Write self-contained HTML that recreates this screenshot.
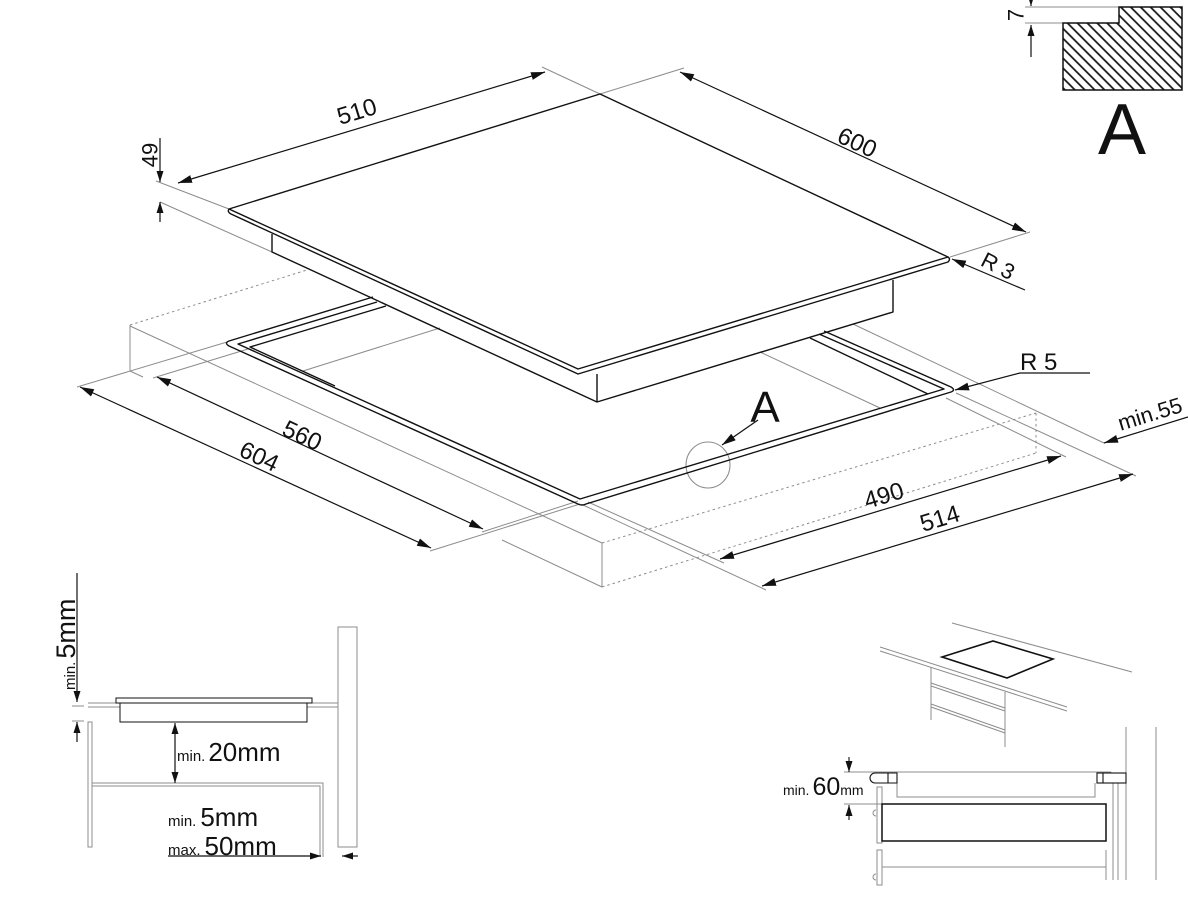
<!DOCTYPE html>
<html>
<head>
<meta charset="utf-8">
<style>
  html,body{margin:0;padding:0;background:#fff;}
  svg{display:block;}
  text{font-family:"Liberation Sans", Arial, sans-serif;fill:#111;}
</style>
</head>
<body>
<svg width="1188" height="899" viewBox="0 0 1188 899" xmlns="http://www.w3.org/2000/svg">
  <defs>
    <marker id="ar" viewBox="0 0 14 8" refX="14" refY="4" markerWidth="14" markerHeight="8" orient="auto-start-reverse" markerUnits="userSpaceOnUse">
      <path d="M0,0 L14,4 L0,8 z" fill="#111"/>
    </marker>
    <marker id="as" viewBox="0 0 11 7" refX="11" refY="3.5" markerWidth="11" markerHeight="7" orient="auto-start-reverse" markerUnits="userSpaceOnUse">
      <path d="M0,0 L11,3.5 L0,7 z" fill="#111"/>
    </marker>
    <pattern id="hatch" patternUnits="userSpaceOnUse" width="7" height="7" patternTransform="rotate(-45)">
      <line x1="3.5" y1="-2" x2="3.5" y2="9" stroke="#111" stroke-width="1.7"/>
    </pattern>
  </defs>

  <!-- ================= GRAY THIN LINES (main view) ================= -->
  <g stroke="#8c8c8c" stroke-width="1" fill="none">
    <line x1="156" y1="181" x2="229" y2="209"/>
    <line x1="160" y1="202" x2="272" y2="252"/>
    <line x1="542" y1="67" x2="600" y2="94"/>
    <line x1="600" y1="94" x2="684" y2="68"/>
    <line x1="950" y1="257" x2="1030" y2="232"/>
    <line x1="130" y1="325" x2="130" y2="371"/>
    <line x1="130" y1="371" x2="143" y2="377"/>
    <line x1="130" y1="326" x2="602" y2="543"/>
    <line x1="502" y1="540" x2="602" y2="587"/>
    <line x1="602" y1="543" x2="602" y2="587"/>
    <line x1="303" y1="371" x2="440" y2="328"/>
    <line x1="760" y1="352" x2="880" y2="408"/>
    <line x1="853" y1="324" x2="1104" y2="443"/>
    <line x1="77" y1="387" x2="227" y2="342"/>
    <line x1="153" y1="378" x2="248" y2="349"/>
    <line x1="430" y1="551" x2="580" y2="504"/>
    <line x1="482" y1="532" x2="578" y2="501"/>
    <line x1="583" y1="505" x2="766" y2="590"/>
    <line x1="588" y1="502" x2="724" y2="563"/>
    <line x1="956" y1="393" x2="1136" y2="476"/>
    <line x1="946" y1="398" x2="1066" y2="457"/>
    <ellipse cx="708" cy="465" rx="22" ry="23"/>
  </g>
  <g stroke="#8c8c8c" stroke-width="1" fill="none" stroke-dasharray="2.5 3">
    <line x1="130" y1="325" x2="307" y2="270"/>
    <line x1="602" y1="543" x2="1036" y2="413"/>
    <line x1="602" y1="587" x2="1036" y2="453"/>
    <line x1="1036" y1="413" x2="1036" y2="453"/>
  </g>

  <!-- ================= HOB (main view) ================= -->
  <g stroke="#111" stroke-width="1.4" fill="none" stroke-linejoin="round">
    <path d="M229,209 L600,94 L948,257 L578,369 Z"/>
    <path d="M229,209 Q227,212 231,214 L578,374 L948,262 Q951,259 948,257"/>
    <path d="M272,234 L272,252 L597,402 L893,312 L893,280"/>
    <line x1="597" y1="374" x2="597" y2="402"/>
    <path d="M373,297 L229,341 Q224,343 229,346 L578,504 Q582,506 586,504 L951,392 Q956,390 951,387 L824,331"/>
    <path d="M377,302 L238,344 L580,499 L944,389 L819,334"/>
    <path d="M386,306 L250,347 L335,386"/>
    <path d="M810,338 L928,394"/>
  </g>

  <!-- ================= DIMENSIONS (main view) ================= -->
  <g stroke="#111" stroke-width="1.2" fill="none">
    <line x1="178" y1="183" x2="545" y2="72" marker-start="url(#ar)" marker-end="url(#ar)"/>
    <line x1="680" y1="72" x2="1026" y2="232" marker-start="url(#ar)" marker-end="url(#ar)"/>
    <line x1="160" y1="138" x2="160" y2="182" marker-end="url(#as)"/>
    <line x1="160" y1="222" x2="160" y2="202" marker-end="url(#as)"/>
    <line x1="1025" y1="290" x2="952" y2="259" marker-end="url(#ar)"/>
    <line x1="80" y1="387" x2="431" y2="548" marker-start="url(#ar)" marker-end="url(#ar)"/>
    <line x1="157" y1="377" x2="483" y2="529" marker-start="url(#ar)" marker-end="url(#ar)"/>
    <line x1="720" y1="559" x2="1061" y2="456" marker-start="url(#ar)" marker-end="url(#ar)"/>
    <line x1="762" y1="586" x2="1133" y2="474" marker-start="url(#ar)" marker-end="url(#ar)"/>
    <path d="M1090,373 L1020,373 L955,390" marker-end="url(#ar)"/>
    <line x1="758" y1="420" x2="722" y2="445" marker-end="url(#ar)"/>
    <line x1="1188" y1="417" x2="1104" y2="443" marker-end="url(#ar)"/>
  </g>

  <text x="357" y="112" font-size="24" text-anchor="middle" dominant-baseline="central" transform="rotate(-17 357 112)">510</text>
  <text x="857" y="143" font-size="24" text-anchor="middle" dominant-baseline="central" transform="rotate(25 857 143)">600</text>
  <text x="150" y="155" font-size="22" text-anchor="middle" dominant-baseline="central" transform="rotate(-90 150 155)">49</text>
  <text x="998" y="266" font-size="22" text-anchor="middle" dominant-baseline="central" transform="rotate(27 998 266)">R 3</text>
  <text x="1020" y="370" font-size="24">R 5</text>
  <text x="765" y="422" font-size="44" text-anchor="middle">A</text>
  <text x="1150" y="414" font-size="22" text-anchor="middle" dominant-baseline="central" transform="rotate(-17 1150 414)">min.55</text>
  <text x="302" y="436" font-size="24" text-anchor="middle" dominant-baseline="central" transform="rotate(25 302 436)">560</text>
  <text x="259" y="457" font-size="24" text-anchor="middle" dominant-baseline="central" transform="rotate(25 259 457)">604</text>
  <text x="884" y="496" font-size="24" text-anchor="middle" dominant-baseline="central" transform="rotate(-17 884 496)">490</text>
  <text x="940" y="519" font-size="24" text-anchor="middle" dominant-baseline="central" transform="rotate(-17 940 519)">514</text>

  <!-- ================= DETAIL A (top right) ================= -->
  <g stroke="#8c8c8c" stroke-width="1" fill="none">
    <line x1="1025" y1="7" x2="1119" y2="7"/>
    <line x1="1025" y1="23" x2="1063" y2="23"/>
  </g>
  <polygon points="1119,7 1182,7 1182,90 1063,90 1063,23 1119,23" fill="url(#hatch)" stroke="#111" stroke-width="1.5"/>
  <g stroke="#111" stroke-width="1.2" fill="none">
    <line x1="1031" y1="-10" x2="1031" y2="6" marker-end="url(#as)"/>
    <line x1="1031" y1="57" x2="1031" y2="25" marker-end="url(#as)"/>
  </g>
  <text x="1016" y="15" font-size="22" text-anchor="middle" dominant-baseline="central" transform="rotate(-90 1016 15)">7</text>
  <text x="1122" y="154" font-size="72" text-anchor="middle">A</text>

  <!-- ================= BOTTOM LEFT ================= -->
  <g stroke="#8c8c8c" stroke-width="1" fill="none">
    <line x1="72" y1="706" x2="84" y2="706"/>
    <line x1="72" y1="721" x2="84" y2="721"/>
    <line x1="88" y1="703" x2="338" y2="703"/>
    <line x1="88" y1="707" x2="338" y2="707"/>
    <rect x="88" y="722" width="4" height="125"/>
    <rect x="338" y="627" width="19" height="220"/>
    <path d="M92,783 L323,783 L323,857"/>
    <path d="M92,786 L320,786 L320,857"/>
  </g>
  <g stroke="#111" stroke-width="1" fill="#fff">
    <rect x="116" y="698" width="196" height="5"/>
    <rect x="120" y="703" width="187" height="19"/>
  </g>
  <g stroke="#111" stroke-width="1.2" fill="none">
    <line x1="77" y1="573" x2="77" y2="702" marker-end="url(#as)"/>
    <line x1="77" y1="742" x2="77" y2="722" marker-end="url(#as)"/>
    <line x1="175" y1="723" x2="175" y2="783" marker-start="url(#as)" marker-end="url(#as)"/>
    <line x1="168" y1="856" x2="321" y2="856" marker-end="url(#as)"/>
    <line x1="358" y1="856" x2="342" y2="856" marker-end="url(#as)"/>
  </g>
  <text x="75" y="690" transform="rotate(-90 75 690)"><tspan font-size="15">min.</tspan><tspan font-size="27" dx="3">5mm</tspan></text>
  <text x="177" y="761"><tspan font-size="15">min.</tspan><tspan font-size="26" dx="3">20mm</tspan></text>
  <text x="168" y="826"><tspan font-size="15">min.</tspan><tspan font-size="26" dx="4">5mm</tspan></text>
  <text x="168" y="855"><tspan font-size="15">max.</tspan><tspan font-size="26" dx="4">50mm</tspan></text>

  <!-- ================= BOTTOM RIGHT ================= -->
  <g stroke="#8c8c8c" stroke-width="1" fill="none">
    <line x1="952" y1="623" x2="1132" y2="672"/>
    <line x1="880" y1="647" x2="1067" y2="707"/>
    <line x1="880" y1="651" x2="1067" y2="711"/>
    <line x1="931" y1="667" x2="931" y2="720"/>
    <line x1="1005" y1="692" x2="1005" y2="747"/>
    <line x1="931" y1="683" x2="1005" y2="708"/>
    <line x1="931" y1="686" x2="1005" y2="711"/>
    <line x1="931" y1="704" x2="1005" y2="730"/>
    <line x1="931" y1="707" x2="1005" y2="733"/>
    <line x1="1126" y1="727" x2="1126" y2="880"/>
    <line x1="1156" y1="727" x2="1156" y2="880"/>
    <line x1="844" y1="772" x2="1111" y2="772"/>
    <line x1="844" y1="804" x2="882" y2="804"/>
    <path d="M897,783 L897,797 L1095,797 L1095,783"/>
    <rect x="877" y="787" width="5" height="56"/>
    <rect x="877" y="850" width="5" height="35"/>
    <path d="M876,810 A3,3 0 0 0 876,816"/>
    <path d="M876,874 A3,3 0 0 0 876,880"/>
    <line x1="882" y1="867" x2="1106" y2="867"/>
    <line x1="1106" y1="850" x2="1106" y2="880"/>
    <line x1="1111" y1="772" x2="1111" y2="783"/>
    <line x1="1113" y1="783" x2="1113" y2="880"/>
    <line x1="1118" y1="783" x2="1118" y2="880"/>
  </g>
  <polygon points="942,657 993,641 1053,659 1007,678" fill="none" stroke="#111" stroke-width="1.6"/>
  <g stroke="#111" stroke-width="1.1" fill="#fff">
    <path d="M875,773 L897,773 L897,783 L875,783 A5,5 0 0 1 875,773 Z"/>
    <line x1="888" y1="773" x2="888" y2="783"/>
    <rect x="1097" y="773" width="29" height="10"/>
    <line x1="1103" y1="773" x2="1103" y2="783"/>
  </g>
  <rect x="882" y="804" width="224" height="37" fill="none" stroke="#111" stroke-width="1.5"/>
  <g stroke="#111" stroke-width="1.1" fill="none">
    <line x1="849" y1="757" x2="849" y2="772" marker-end="url(#as)"/>
    <line x1="849" y1="820" x2="849" y2="805" marker-end="url(#as)"/>
  </g>
  <text x="783" y="795"><tspan font-size="14">min.</tspan><tspan font-size="25" dx="3">60</tspan><tspan font-size="14">mm</tspan></text>
</svg>
</body>
</html>
